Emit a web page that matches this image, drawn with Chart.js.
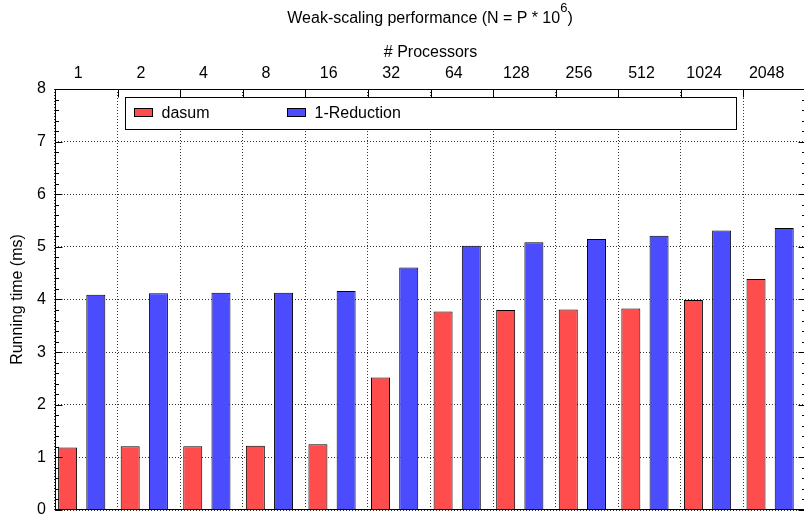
<!DOCTYPE html>
<html>
<head>
<meta charset="utf-8">
<script src="https://cdn.jsdelivr.net/npm/chart.js@4.4.0/dist/chart.umd.min.js"></script>
<style>
  html, body { margin: 0; padding: 0; background: #fff; overflow: hidden; }
  #wrap { position: relative; width: 808px; height: 515px; }
  #title {
    position: absolute; left: 230px; width: 400px; top: 10px;
    text-align: center; color: #000;
    font: 16px "Liberation Sans", Arial, sans-serif; line-height: 16px;
  }
  #title span { font-size: 13px; position: relative; top: -11px; }
</style>
</head>
<body>
<div id="wrap">
  <canvas id="myChart" width="808" height="515"></canvas>
  <div id="title">Weak-scaling performance (N = P * 10<span>6</span>)</div>
</div>
<script>
// dati
const processori = ["1", "2", "4", "8", "16", "32", "64", "128", "256", "512", "1024", "2048"];
const dasum = [1.19, 1.21, 1.21, 1.22, 1.25, 2.52, 3.77, 3.80, 3.81, 3.83, 3.99, 4.39];
const riduzione = [4.09, 4.12, 4.13, 4.13, 4.16, 4.61, 5.02, 5.09, 5.15, 5.21, 5.31, 5.36];
const yMin = 0;
const yMax = 8;

const font = { family: "'Liberation Sans', Arial, sans-serif", size: 16 };
const dotted = [1, 2];
const gridColor = "rgba(0, 0, 0, 0.8)";

// tacche interne, bordo e legenda dentro il grafico (stile gnuplot)
const cornice = {
  id: "cornice",
  afterDatasetsDraw(chart) {
    const { ctx, chartArea: a, scales } = chart;
    const x = scales.x;
    const y = scales.y;
    const L = Math.round(a.left) + 0.5;
    const R = Math.round(a.right) - 0.5;
    const T = Math.round(a.top) + 0.5;
    const B = Math.round(a.bottom) - 0.5;
    ctx.save();
    ctx.strokeStyle = "#000";
    ctx.lineWidth = 1;

    // tacche in alto sui confini delle categorie
    const passo = x.width / processori.length;
    ctx.beginPath();
    for (let i = 1; i < processori.length; i++) {
      const px = Math.round(x.left + i * passo) + 0.5;
      ctx.moveTo(px, T);
      ctx.lineTo(px, T + 8);
    }
    // tacche asse y, sinistra e destra
    for (let v = yMin; v <= yMax + 0.001; v += 0.2) {
      const py = Math.round(y.getPixelForValue(v)) + 0.5;
      const major = Math.abs(v - Math.round(v)) < 0.01;
      const len = major ? 7 : 3.5;
      ctx.moveTo(L, py);
      ctx.lineTo(L + len, py);
      ctx.moveTo(R, py);
      ctx.lineTo(R - len, py);
    }
    ctx.stroke();

    // bordo
    ctx.strokeRect(L, T, R - L, B - T);

    // legenda
    ctx.fillStyle = "#fff";
    ctx.fillRect(125.5, 97.5, 611, 32);
    ctx.strokeRect(125.5, 97.5, 611, 32);
    const voci = [
      { x: 134.5, tx: 161.5 },
      { x: 287.5, tx: 314.5 },
    ];
    ctx.font = "16px 'Liberation Sans', Arial, sans-serif";
    ctx.textBaseline = "alphabetic";
    ctx.textAlign = "left";
    chart.data.datasets.forEach((ds, i) => {
      const v = voci[i];
      ctx.fillStyle = ds.backgroundColor;
      ctx.fillRect(v.x, 108.5, 18, 8);
      ctx.strokeRect(v.x, 108.5, 18, 8);
      ctx.fillStyle = "#000";
      ctx.fillText(ds.label, v.tx, 118);
    });
    ctx.restore();
  },
};

const config = {
  type: "bar",
  data: {
    labels: processori,
    datasets: [
      {
        label: "dasum",
        data: dasum,
        backgroundColor: "#ff4c4c",
        borderColor: "#000",
        borderWidth: 1,
        categoryPercentage: 1.195,
        barPercentage: 0.508,
      },
      {
        label: "1-Reduction",
        data: riduzione,
        backgroundColor: "#4c4cff",
        borderColor: "#000",
        borderWidth: 1,
        categoryPercentage: 0.608,
        barPercentage: 0.999,
      },
    ],
  },
  options: {
    responsive: false,
    animation: false,
    layout: { padding: { left: 0, right: 2, top: 0, bottom: 5 } },
    plugins: {
      legend: { display: false },
      tooltip: { enabled: false },
      title: { display: false },
    },
    scales: {
      x: {
        position: "top",
        offset: true,
        grid: { color: gridColor, lineWidth: 1, drawTicks: false, borderDash: dotted, offset: true },
        border: { display: false, dash: dotted },
        ticks: {
          color: "#000",
          font: font,
          padding: 6,
          labelOffset: -8,
          maxRotation: 0,
          autoSkip: false,
        },
        title: {
          display: true,
          text: "# Processors",
          color: "#000",
          font: font,
          padding: { top: 43, bottom: 0 },
        },
        afterFit: (s) => {
          s.height = 89;
          s.paddingLeft = 0;
          s.paddingRight = 0;
        },
      },
      y: {
        min: yMin,
        max: yMax,
        grid: { color: gridColor, lineWidth: 1, drawTicks: false, borderDash: dotted },
        border: { display: false, dash: dotted },
        ticks: { stepSize: 1, color: "#000", font: font, padding: 9 },
        title: {
          display: true,
          text: "Running time (ms)",
          color: "#000",
          font: font,
          padding: { top: 8, bottom: 0 },
        },
        afterFit: (s) => {
          s.width = 55;
          s.paddingTop = 0;
          s.paddingBottom = 0;
        },
      },
    },
  },
  plugins: [cornice],
};

const myChart = new Chart(document.getElementById("myChart"), config);
</script>
</body>
</html>
